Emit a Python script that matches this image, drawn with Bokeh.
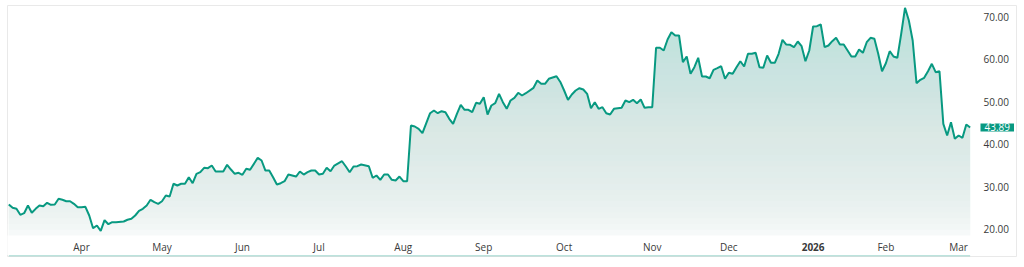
import numpy as np
from bokeh.plotting import figure
from bokeh.models import Range1d, FixedTicker, NumeralTickFormatter, Label
from bokeh.embed import file_html
from bokeh.resources import INLINE

# ---- data (trading-day index, close) ----
bar_index = [0, 1, 2, 3, 4, 5, 6, 7, 8, 9, 10, 11, 12, 13, 14, 15, 16, 17, 18, 19,
             20, 21, 22, 23, 24, 25, 26, 27, 28, 30, 31, 32, 33, 34, 35, 36, 37, 38, 39,
             40, 41, 42, 43, 44, 45, 46, 47, 48, 49, 50, 51, 52, 53, 54, 56, 57, 58, 59,
             60, 61, 62, 63, 65, 66, 67, 68, 69, 70, 71, 72, 73, 74, 75, 76, 77, 78, 79,
             80, 81, 82, 83, 84, 85, 87, 88, 89, 90, 91, 92, 94, 95, 96, 97, 98, 99,
             100, 101, 102, 103, 104, 105, 106, 107, 108, 110, 111, 112, 113, 114, 115,
             116, 117, 118, 119, 120, 121, 122, 123, 124, 125, 126, 127, 128, 129, 130,
             131, 132, 133, 134, 135, 137, 138, 139, 140, 141, 143, 144, 145, 146, 147,
             148, 149, 150, 151, 152, 153, 154, 155, 156, 157, 158, 159, 160, 161, 162,
             163, 164, 165, 166, 167, 168, 169, 170, 171, 172, 173, 174, 175, 176, 177,
             178, 179, 180, 181, 182, 183, 184, 185, 186, 187, 188, 189, 190, 191, 192,
             193, 194, 195, 196, 197, 198, 199, 200, 201, 202, 203, 204, 205, 206, 207,
             208, 209, 210, 211, 212, 213, 214, 215, 216, 217, 218, 219, 220, 221, 222,
             223, 224, 225, 226, 227, 228, 229, 230, 231, 232, 233, 234, 235, 236, 237,
             238, 239, 240, 241, 242, 243, 244, 245, 246, 247, 248, 249, 250, 251]
close = [25.77, 24.99, 24.75, 23.34, 23.72, 25.53, 23.81, 24.75, 25.53, 25.37, 26.17, 25.69,
         25.77, 27.11, 26.87, 26.54, 26.54, 25.93, 25.13, 25.13,
         25.22, 23.18, 20.19, 20.83, 19.58, 22.07, 21.13, 21.60, 21.60, 21.76, 22.17, 22.40,
         23.18, 24.28, 24.75, 25.53, 26.87, 26.31, 25.93,
         26.54, 27.88, 27.65, 30.64, 30.24, 30.64, 30.64, 32.19, 30.78, 32.99, 33.37, 34.40,
         34.31, 34.94, 33.53, 33.53, 35.11, 34.00, 32.99,
         33.23, 32.75, 34.17, 33.93, 36.75, 36.12, 33.76, 33.76, 32.19, 30.47, 30.78, 31.25,
         32.82, 32.59, 32.35, 33.53, 32.82, 33.37, 33.76,
         33.76, 32.82, 32.99, 34.40, 33.60, 34.94, 35.95, 34.71, 33.37, 34.71, 34.78, 35.18,
         34.78, 32.05, 32.59, 31.58, 32.82, 32.82,
         31.58, 31.41, 32.35, 31.25, 31.25, 44.35, 44.12, 43.58, 42.54, 47.25, 47.88, 47.25,
         47.72, 47.48, 45.93,
         44.75, 47.11, 49.22, 48.05, 48.05, 47.48, 49.70, 49.46, 51.01, 46.94, 49.06, 49.60,
         51.81, 49.84, 48.28,
         50.24, 50.87, 52.05, 51.41, 51.95, 53.22, 54.94, 54.17, 54.17, 55.34, 55.95, 54.60,
         52.59, 50.40, 51.65,
         52.59, 53.13, 52.82, 51.81, 48.42, 49.84, 48.28, 48.66, 47.25, 46.94, 48.28, 48.42,
         48.52, 50.24, 49.84,
         50.40, 49.60, 50.47, 48.52, 48.66, 48.66, 62.64, 62.64, 62.00, 64.59, 66.31, 65.53,
         65.53, 59.25, 60.59,
         56.52, 58.07, 60.28, 55.88, 55.88, 55.48, 57.46, 57.84, 58.31, 55.34, 56.75, 56.52,
         58.07, 59.48, 58.24,
         61.22, 61.22, 61.46, 58.07, 57.93, 60.82, 59.11, 59.11, 61.22, 64.52, 63.41, 63.34,
         62.78, 64.12, 63.01,
         59.48, 62.00, 67.65, 67.72, 68.12, 62.78, 63.18, 64.19, 64.99, 63.41, 63.41, 62.00,
         60.59, 60.59, 62.24,
         61.46, 63.95, 64.99, 64.75, 61.22, 57.13, 59.01, 61.84, 60.59, 60.28, 65.93, 72.05,
         69.06, 64.35, 54.31,
         55.11, 55.58, 57.13, 58.87, 56.90, 57.13, 44.75, 42.00, 45.13, 41.22, 42.00, 41.46,
         44.59, 43.89]

month_ticks = [19, 40, 61, 81, 103, 124, 145, 168, 188, 210, 229, 248]
month_labels = ["Apr", "May", "Jun", "Jul", "Aug", "Sep", "Oct", "Nov", "Dec", "2026", "Feb", "Mar"]
price_ticks = [20, 30, 40, 50, 60, 70]
last_price = 43.89

LINE = "#089981"
FONT = "Open Sans"
TXT = "#3a3a3a"

PX_X = 3.83   # px per bar
PX_Y = 4.25   # px per price unit
x_start = -0.34
x_end = x_start + 1009 / PX_X
y_end = 72.59
y_start = y_end - 251 / PX_Y
fill_bottom = y_end - 230 / PX_Y
A = 0.27

p = figure(frame_width=1009, frame_height=251,
           min_border_left=7, min_border_right=8, min_border_top=5, min_border_bottom=11,
           x_range=Range1d(x_start, x_end), y_range=Range1d(y_start, y_end),
           y_axis_location="right", output_backend="svg", toolbar_location=None)
p.outline_line_color = "#e9e9e9"
p.outline_line_width = 1
p.grid.visible = False
p.background_fill_color = "white"
p.border_fill_color = "white"

# area under the curve (runs to the frame bottom, hidden below fill_bottom by an opaque veil)
p.varea(x=bar_index, y1=y_start - 2, y2=close, fill_color=LINE, fill_alpha=A)

# vertical fade: white veils, stronger towards the bottom
n = 40
levels = np.linspace(fill_bottom, y_end, n + 1)
mids = (levels[:-1] + levels[1:]) / 2
eff = 0.004 + 0.266 * (mids - fill_bottom) / (y_end - fill_bottom)
Q = np.append(eff / A, 1.0)
w = 1 - Q[:-1] / Q[1:]
veil_bottom = y_start + 1.5 / PX_Y
p.quad(left=bar_index[0] - 1, right=bar_index[-1] + 2, bottom=veil_bottom, top=levels[1:],
       fill_color="white", fill_alpha=w, line_color=None)
p.quad(left=bar_index[0] - 1, right=bar_index[-1] + 2, bottom=veil_bottom, top=fill_bottom,
       fill_color="white", fill_alpha=1.0, line_color=None)

p.line(bar_index, close, line_color=LINE, line_width=2)

# axes (labels drawn inside the bordered frame)
xa = p.xaxis[0]
xa.ticker = FixedTicker(ticks=month_ticks)
overrides = {t: l for t, l in zip(month_ticks, month_labels)}
overrides[month_ticks[month_labels.index("2026")]] = ""
xa.major_label_overrides = overrides
ya = p.yaxis[0]
ya.ticker = FixedTicker(ticks=price_ticks)
ya.formatter = NumeralTickFormatter(format="0.00")
for ax in (xa, ya):
    ax.axis_line_color = None
    ax.major_tick_line_color = None
    ax.minor_tick_line_color = None
    ax.major_tick_out = 0
    ax.major_tick_in = 0
    ax.minor_tick_out = 0
    ax.major_label_text_font = FONT
    ax.major_label_text_font_size = "10px"
    ax.major_label_text_color = TXT
xa.major_label_standoff = -17
ya.major_label_standoff = -33

yr = month_labels.index("2026")
p.add_layout(Label(x=month_ticks[yr], y=y_end - 241 / PX_Y, text="2026",
                   text_font=FONT, text_font_size="10px", text_font_style="bold",
                   text_color=TXT, text_align="center", text_baseline="middle"))

p.add_layout(Label(x=x_start + 973 / PX_X, y=last_price, text=f"{last_price:.2f}",
                   text_font=FONT, text_font_size="10px", text_color="white",
                   text_align="left", text_baseline="middle",
                   background_fill_color=LINE,
                   padding=dict(left=4, right=4, top=0, bottom=0)))

open("out.html", "w").write(file_html(p, INLINE))
